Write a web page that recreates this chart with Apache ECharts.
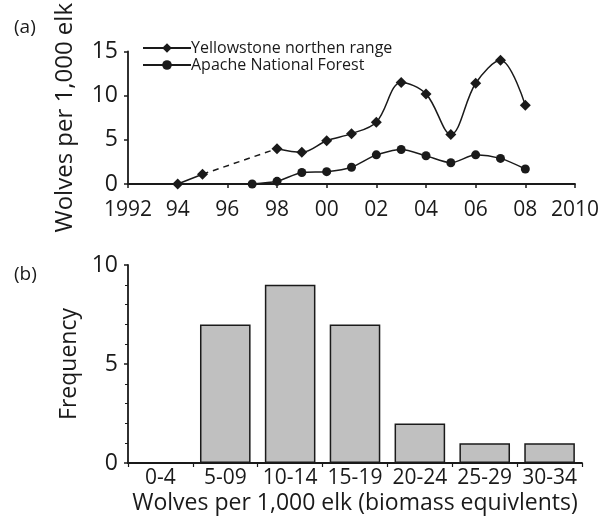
<!DOCTYPE html>
<html><head><meta charset="utf-8">
<script src="https://cdn.jsdelivr.net/npm/echarts@6/dist/echarts.min.js"></script>
<style>html,body{margin:0;padding:0;background:#fff}#c{width:614px;height:523px}</style>
</head><body><div id="c"></div>
<script>
// Panel (a) data
var yellowstoneEarly = [[1994, 0], [1995, 1.1]];
var yellowstoneGap = [[1995, 1.1], [1998, 4.0]];
var yellowstoneLate = [[1998, 4.0], [1999, 3.6], [2000, 4.9], [2001, 5.7], [2002, 7.0], [2003, 11.5], [2004, 10.2], [2005, 5.6], [2006, 11.4], [2007, 14.0], [2008, 8.9]];
var apache = [[1997, 0], [1998, 0.3], [1999, 1.3], [2000, 1.4], [2001, 1.9], [2002, 3.3], [2003, 3.9], [2004, 3.2], [2005, 2.4], [2006, 3.3], [2007, 2.9], [2008, 1.7]];
// Panel (b) data
var binCategories = ['0-4', '5-09', '10-14', '15-19', '20-24', '25-29', '30-34'];
var frequency = [0, 7, 9, 7, 2, 1, 1];

var FONT = '"Open Sans", "Noto Sans", sans-serif';
var INK = '#1a1a1a';
var chart = echarts.init(document.getElementById('c'), null, {renderer: 'canvas'});
var axisLine = {show: true, lineStyle: {color: INK, width: 1.8}};
var tick = {show: true, inside: false, length: 4, lineStyle: {color: INK, width: 1.5}};
var lbl = {color: INK, fontFamily: FONT};

chart.setOption({
  animation: false,
  backgroundColor: '#fff',
  title: [
    {text: '(a)', left: 14, top: 18, padding: 0, textStyle: {fontFamily: FONT, fontSize: 19, fontWeight: 'normal', color: INK}},
    {text: '(b)', left: 14, top: 265, padding: 0, textStyle: {fontFamily: FONT, fontSize: 19, fontWeight: 'normal', color: INK}}
  ],
  legend: {
    left: 142, top: 40, padding: 0, orient: 'vertical', itemWidth: 48, itemHeight: 12, itemGap: 1,
    data: ['Yellowstone northen range', 'Apache National Forest'],
    textStyle: {fontFamily: FONT, fontSize: 16, color: INK, padding: [0, 0, 0, -5]}
  },
  grid: [
    {left: 128, right: 39, top: 24, height: 160},
    {left: 128, right: 32, top: 265, height: 198}
  ],
  xAxis: [
    {type: 'value', gridIndex: 0, min: 1992, max: 2010, interval: 2,
     axisLine: axisLine, axisTick: tick, splitLine: {show: false},
     axisLabel: Object.assign({}, lbl, {fontSize: 21, margin: 16, formatter: function (v) {
       return (v === 1992 || v === 2010) ? String(v) : String(v).slice(2);
     }})},
    {type: 'category', gridIndex: 1, data: binCategories,
     name: 'Wolves per 1,000 elk (biomass equivlents)', nameLocation: 'middle', nameGap: 29,
     nameTextStyle: {fontFamily: FONT, fontSize: 23, color: INK},
     axisLine: axisLine, axisTick: {show: true, alignWithLabel: false, length: 4, lineStyle: {color: INK, width: 1.2}},
     axisLabel: Object.assign({}, lbl, {fontSize: 21, margin: 5, interval: 0})}
  ],
  yAxis: [
    {type: 'value', gridIndex: 0, min: 0, max: 15, interval: 5,
     name: 'Wolves per 1,000 elk', nameLocation: 'middle', nameGap: 51,
     nameTextStyle: {fontFamily: FONT, fontSize: 24, color: INK},
     axisLine: axisLine, axisTick: tick, splitLine: {show: false},
     axisLabel: Object.assign({}, lbl, {fontSize: 23, margin: 10})},
    {type: 'value', gridIndex: 1, min: 0, max: 10, interval: 5,
     name: 'Frequency', nameLocation: 'middle', nameGap: 47,
     nameTextStyle: {fontFamily: FONT, fontSize: 23, color: INK},
     axisLine: axisLine, axisTick: tick, splitLine: {show: false},
     minorTick: {show: true, splitNumber: 5, length: 3, lineStyle: {color: INK, width: 1}},
     axisLabel: Object.assign({}, lbl, {fontSize: 23, margin: 10})}
  ],
  series: [
    {name: 'Yellowstone northen range', type: 'line', xAxisIndex: 0, yAxisIndex: 0,
     data: yellowstoneEarly, symbol: 'diamond', symbolSize: 11,
     lineStyle: {color: INK, width: 1.5}, itemStyle: {color: INK}},
    {name: 'gap', type: 'line', xAxisIndex: 0, yAxisIndex: 0,
     data: yellowstoneGap, symbol: 'none',
     lineStyle: {color: INK, width: 1.5, type: [6, 5]}},
    {name: 'Yellowstone northen range', type: 'line', xAxisIndex: 0, yAxisIndex: 0,
     data: yellowstoneLate, symbol: 'diamond', symbolSize: 11, smooth: 0.35,
     lineStyle: {color: INK, width: 1.5}, itemStyle: {color: INK}},
    {name: 'Apache National Forest', type: 'line', xAxisIndex: 0, yAxisIndex: 0,
     data: apache, symbol: 'circle', symbolSize: 9, smooth: 0.25,
     lineStyle: {color: INK, width: 1.5}, itemStyle: {color: INK}},
    {name: 'Frequency', type: 'bar', xAxisIndex: 1, yAxisIndex: 1,
     data: frequency, barCategoryGap: '22%',
     itemStyle: {color: '#c0c0c0', borderColor: INK, borderWidth: 1.5}}
  ]
});
</script></body></html>
